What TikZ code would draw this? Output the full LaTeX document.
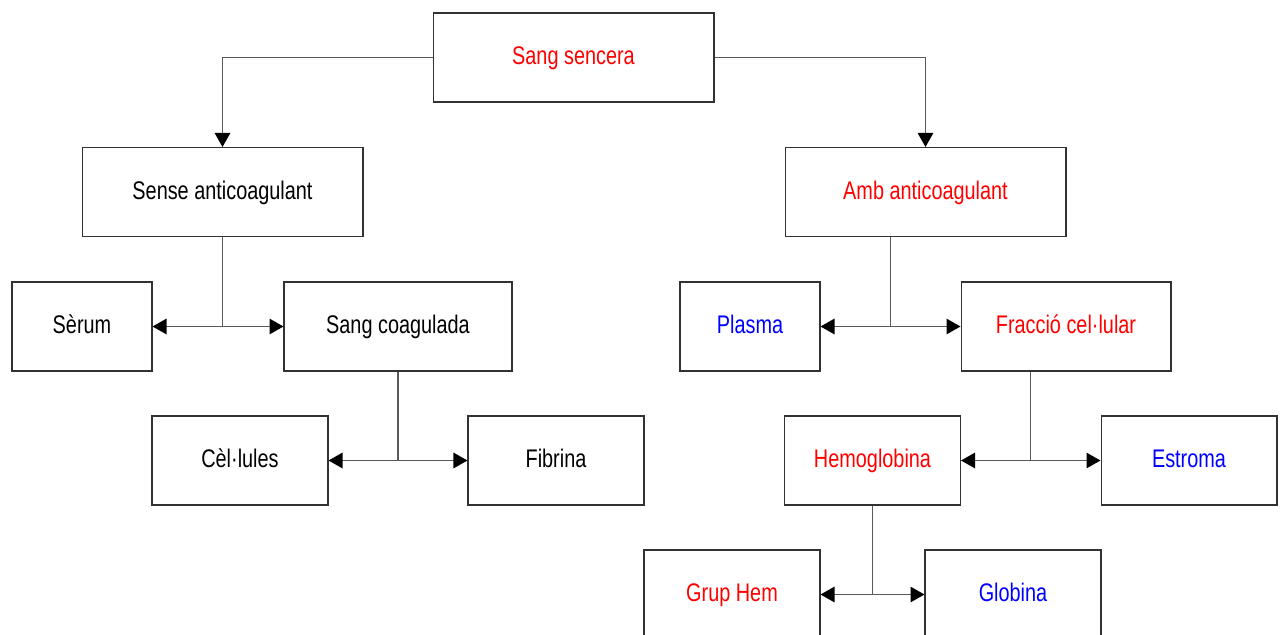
\documentclass[tikz,border=0pt]{standalone}
\usepackage{fontspec}
\setmainfont{Liberation Sans}[FakeStretch=0.78]
\usepackage{xcolor}
\usepackage{tikz}
\usetikzlibrary{positioning,arrows.meta,calc}
\definecolor{boxline}{RGB}{50,50,50}
\definecolor{linkgray}{RGB}{90,90,90}

\begin{document}
\begin{tikzpicture}[x=0.02cm, y=-0.02cm,
  every node/.style={font=\fontsize{14.5}{17}\selectfont},
  box/.style={rectangle, draw=boxline, line width=0.6pt, fill=white,
              minimum height=1.78cm, inner sep=0pt, align=center,
              text height=10.4pt, text depth=2pt},
  wide/.style={box, minimum width=5.62cm},
  small/.style={box, minimum width=2.8cm},
  medium/.style={box, minimum width=3.52cm},
  link/.style={draw=linkgray, line width=0.7pt},
  tip/.style={link, -{Triangle[length=0.28cm, width=0.31cm, color=black]}},
  twotip/.style={link, {Triangle[length=0.28cm, width=0.31cm, color=black]}-{Triangle[length=0.28cm, width=0.31cm, color=black]}}
]
  \clip (0,0) rectangle (1282,635);

  % blood and its two ways
  \node[wide, text=red] (sang) at (573.5,57.5) {Sang sencera};
  \node[wide] (sense) at (222.5,192) {Sense anticoagulant};
  \node[wide, text=red] (amb) at (925.5,192) {Amb anticoagulant};

  % without anticoagulant
  \node[small] (serum) at (82,326.5) {Sèrum};
  \node[box, minimum width=4.56cm] (coag) at (398,326.5) {Sang coagulada};
  \node[medium] (cel) at (240,460.5) {Cèl·lules};
  \node[medium] (fib) at (556,460.5) {Fibrina};

  % with anticoagulant
  \node[small, text=blue] (plasma) at (750,326.5) {Plasma};
  \node[box, minimum width=4.2cm, text=red] (fraccio) at (1066,326.5) {Fracció cel·lular};
  \node[medium, text=red] (hemo) at (872.5,460.5) {Hemoglobina};
  \node[medium, text=blue] (estroma) at (1189,460.5) {Estroma};
  \node[medium, text=red] (grup) at (732,594.5) {Grup Hem};
  \node[medium, text=blue] (glob) at (1013,594.5) {Globina};

  \draw[tip] (sang.west) -| (sense.north);
  \draw[tip] (sang.east) -| (amb.north);

  \coordinate (m1) at ($(serum.east)!0.5!(coag.west)$);
  \coordinate (m2) at ($(cel.east)!0.5!(fib.west)$);
  \coordinate (m3) at ($(plasma.east)!0.5!(fraccio.west)$);
  \coordinate (m4) at ($(hemo.east)!0.5!(estroma.west)$);
  \coordinate (m5) at ($(grup.east)!0.5!(glob.west)$);

  \draw[link] (sense.south) -- (sense.south |- m1);
  \draw[twotip] (serum.east) -- (coag.west);
  \draw[link] (m2 -| coag.south) -- (coag.south);
  \draw[twotip] (cel.east) -- (fib.west);
  \draw[link] (m3) -- (m3 |- amb.south);
  \draw[twotip] (plasma.east) -- (fraccio.west);
  \draw[link] (m4) -- (m4 |- fraccio.south);
  \draw[twotip] (hemo.east) -- (estroma.west);
  \draw[link] (m5) -- (m5 |- hemo.south);
  \draw[twotip] (grup.east) -- (glob.west);
\end{tikzpicture}
\end{document}
